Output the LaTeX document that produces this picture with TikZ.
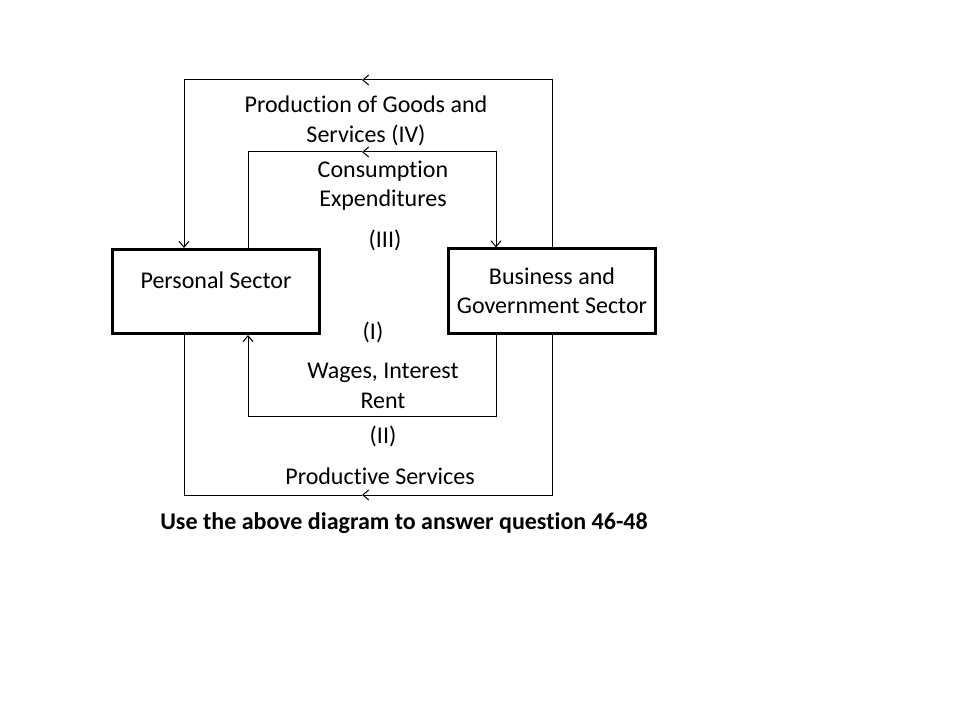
\documentclass[tikz,border=0pt]{standalone}
\usepackage{fontspec}
\setmainfont[Ligatures=NoCommon]{Carlito}
\usetikzlibrary{positioning, arrows.meta, calc}

\begin{document}
\begin{tikzpicture}[x=0.75pt, y=-0.75pt, >={Straight Barb[length=4.5pt,width=7.5pt]},
        sector/.style={draw, line width=2.25pt, minimum width=155.25pt, minimum height=63pt, inner sep=0pt, align=center, font=\fontsize{18}{22}\selectfont},
        flow/.style={line width=0.75pt},
        lbl/.style={align=center, inner sep=0pt, font=\fontsize{18}{22}\selectfont}]
            \useasboundingbox (0,0) rectangle (960,720);

            \node[sector, label={[name=ps-text, lbl, yshift=8.5pt]center:Personal Sector}] (ps) at (216,291.5) {};
            \node[sector] (bg) at (552,291) {Business and\\Government Sector};

            \coordinate (otl) at (184,80);
            \coordinate (otr) at (552,80);
            \coordinate (otm) at (362,80);
            \coordinate (itl) at (248,152);
            \coordinate (itr) at (496,152);
            \coordinate (itm) at (362,152);
            \coordinate (ibl) at (248,416);
            \coordinate (ibr) at (496,416);
            \coordinate (obl) at (184,495);
            \coordinate (obr) at (552,495);
            \coordinate (obm) at (362,495);

            % production of goods and services
            \draw[flow, <-] (otm) -- (otr) -- (otr |- bg.north);
            \draw[flow, ->] (otm) -- (otl) -- (otl |- ps.north);
            % consumption expenditures
            \draw[flow] (itm) -- (itl) -- (itl |- ps.north);
            \draw[flow, <->] (itm) -- (itr) -- (itr |- bg.north);
            % wages, interest, rent
            \draw[flow, ->] (ibr |- bg.south) -- (ibr) -- (ibl) -- (ibl |- ps.south);
            % productive services
            \draw[flow, <-] (obm) -- (obr) -- (obr |- bg.south);
            \draw[flow] (obm) -- (obl) -- (obl |- ps.south);

            \node[lbl] (goods) at (366,121) {Production of Goods and\\Services (IV)};
            \node[lbl] (cons) at (383,186) {Consumption\\Expenditures};
            \node[lbl] (n3) at (385,240) {(III)};
            \node[lbl] (n1) at (373,332) {(I)};
            \node[lbl] (wages) at (383,386) {Wages, Interest\\Rent};
            \node[lbl] (n2) at (383,436) {(II)};
            \node[lbl] (serv) at (380,476) {Productive Services};
            \node[lbl, font=\fontsize{18}{22}\selectfont\bfseries] (note) at (404,523) {Use the above diagram to answer question 46-48};
        \end{tikzpicture}
\end{document}
